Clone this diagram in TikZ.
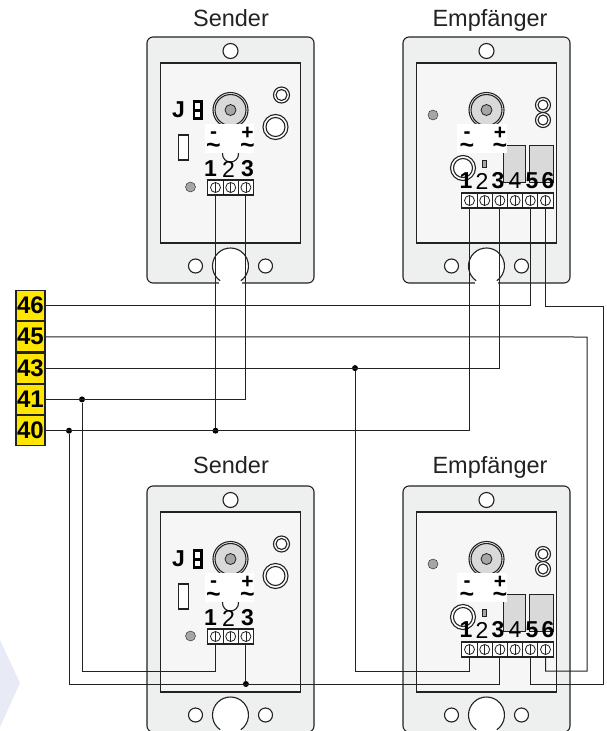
\documentclass[tikz,border=0pt]{standalone}
\usepackage{fontspec}
\setmainfont{Liberation Sans}
\usetikzlibrary{positioning}

\definecolor{bodygray}{HTML}{EEEFEF}
\definecolor{panelgray}{HTML}{F6F6F6}
\definecolor{partgray}{HTML}{D9D9D9}
\definecolor{dotgray}{HTML}{A6A6A6}
\definecolor{linedark}{HTML}{222222}
\definecolor{busyellow}{HTML}{FFE600}
\definecolor{markpale}{HTML}{E8EAF6}

\tikzset{
  outline/.style={draw=linedark, line width=1.1pt},
  title/.style={inner sep=0pt, anchor=base, font=\fontsize{23.5}{24}\selectfont, text=linedark},
  polarity/.style={inner sep=0pt, font=\bfseries\fontsize{21}{22}\selectfont},
  wavemark/.style={inner sep=0pt, font=\bfseries\fontsize{25}{26}\selectfont},
  digitbold/.style={inner sep=0pt, font=\bfseries\fontsize{23}{24}\selectfont},
  digitthin/.style={inner sep=0pt, font=\fontsize{23}{24}\selectfont},
  termcell/.style={outline, fill=white, minimum width=15.2pt, minimum height=15pt, inner sep=0pt,
    path picture={
      \draw[line width=0.8pt, draw=linedark] (path picture bounding box.center) circle (5);
      \draw[line width=0.8pt, draw=linedark] ([yshift=5pt]path picture bounding box.center) -- ([yshift=-5pt]path picture bounding box.center);
    }},
  busterm/.style={outline, fill=busyellow, minimum width=29pt, minimum height=30.2pt, inner sep=0pt,
    font=\bfseries\fontsize{24}{25}\selectfont},
  wire/.style={draw=linedark, line width=1pt},
  junction/.style={circle, fill=black, minimum size=6pt, inner sep=0pt},
  pics/devicebody/.style={code={
    % housing and inner panel
    \draw[outline, fill=bodygray, rounded corners=6pt] (-83.5,-14) rectangle (83.5,232);
    \draw[outline, fill=panelgray] (-70,12) rectangle (70,192);
    % mounting holes
    \draw[outline, fill=white] (0,0) circle (7.5);
    \draw[outline, fill=white] (-35,215) circle (7);
    \draw[outline, fill=white] (35,215) circle (7);
    \fill[white] (0,215) circle (18);
    \fill[white] (-12,228) rectangle (11,234);
    \draw[outline] (0,215) ++(125:18) arc[start angle=125, end angle=415, radius=18];
    % buzzer
    \draw[outline, fill=white] (0,59) circle (17.5);
    \draw[outline, fill=partgray] (0,59) circle (15.5);
    \draw[draw=linedark, line width=0.8pt, fill=dotgray] (0,59) circle (5.5);
  }},
  pics/senderbox/.style={code={
    \pic {devicebody};
    \draw[outline, fill=white] (51,44) circle (8);
    \draw[outline, fill=white] (51,44) circle (5.5);
    \draw[outline, fill=white] (45,76) circle (12.5);
    \draw[outline, fill=white] (45,76) circle (9.5);
    \node[digitbold] (-j) at (-52,59) {J};
    % jumper
    \fill[black] (-38,49) rectangle (-28,69);
    \fill[white] (-35.5,52) rectangle (-30.5,57.5);
    \fill[white] (-35.5,60.5) rectangle (-30.5,66);
    \draw[outline, fill=white] (-52,84) rectangle (-42,109);
    \draw[draw=linedark, fill=dotgray] (-40,136) circle (5);
    \draw[outline, fill=white] (0,103) circle (8);
    % patch under the polarity marks
    \fill[white] (-26,73) rectangle (23,102);
    \node[polarity] (-minus) at (-17,84) {-};
    \node[wavemark] (-acl) at (-17,97.5) {\textasciitilde};
    \node[polarity] (-plus) at (17,82) {+};
    \node[wavemark] (-acr) at (17,97.5) {\textasciitilde};
    % terminal block
    \node[digitbold] (-n1) at (-20,118) {1};
    \node[digitthin] (-n2) at (-2,118) {2};
    \node[digitbold] (-n3) at (17,118) {3};
    \node[termcell] (-t1) at (-15,136.5) {};
    \node[termcell] (-t2) at (0.2,136.5) {};
    \node[termcell] (-t3) at (15.4,136.5) {};
  }},
  pics/receiverbox/.style={code={
    \pic {devicebody};
    \draw[outline, fill=white] (56.5,54) circle (7.5);
    \draw[outline, fill=white] (56.5,54) circle (5);
    \draw[outline, fill=white] (56.5,69) circle (7.5);
    \draw[outline, fill=white] (56.5,69) circle (5);
    \draw[draw=linedark, fill=dotgray] (-53.5,64) circle (5);
    % relays
    \draw[draw=linedark, line width=0.9pt, fill=partgray] (16.5,94) rectangle (38.5,131);
    \draw[draw=linedark, line width=0.9pt, fill=partgray] (42.5,94) rectangle (66.5,131);
    % patch under the polarity marks
    \fill[white] (-29.5,73) rectangle (20.5,102);
    \node[polarity] (-minus) at (-19.5,84) {-};
    \node[wavemark] (-acl) at (-19.5,97.5) {\textasciitilde};
    \node[polarity] (-plus) at (13.5,82) {+};
    \node[wavemark] (-acr) at (13.5,97.5) {\textasciitilde};
    \draw[outline, fill=white] (-23.5,117) circle (12.5);
    \draw[outline, fill=white] (-23.5,117) circle (9.5);
    \draw[draw=linedark, line width=0.8pt, fill=dotgray] (-4.5,109) rectangle (0,116);
    % terminal block
    \node[digitbold] (-n1) at (-20.5,130) {1};
    \node[digitthin] (-n2) at (-4.5,130) {2};
    \node[digitbold] (-n3) at (11.5,130) {3};
    \node[digitthin] (-n4) at (28.5,130) {4};
    \node[digitbold] (-n5) at (45.5,130) {5};
    \node[digitbold] (-n6) at (61.5,130) {6};
    \node[termcell] (-t1) at (-17,149.5) {};
    \node[termcell] (-t2) at (-1.8,149.5) {};
    \node[termcell] (-t3) at (13.4,149.5) {};
    \node[termcell] (-t4) at (28.6,149.5) {};
    \node[termcell] (-t5) at (43.8,149.5) {};
    \node[termcell] (-t6) at (59,149.5) {};
  }},
}

\begin{document}
\begin{tikzpicture}[x=1pt, y=-1pt]
\useasboundingbox (0,0) rectangle (606,731);

% Pale mark in the corner
\fill[markpale] (0,640) -- (20,683) -- (0,727) -- cycle;

% Upper pair
\node[title] (sendtop) at (231,26.5) {Sender};
\node[title] (recvtop) at (490,26.5) {Empfänger};
\pic (s1) at (230.5,51) {senderbox};
\pic (r1) at (486.5,51) {receiverbox};

% Lower pair
\node[title] (sendlow) at (231,473.5) {Sender};
\node[title] (recvlow) at (490,473.5) {Empfänger};
\pic (s2) at (230.5,500) {senderbox};
\pic (r2) at (486.5,500) {receiverbox};

% Yellow terminal strip
\node[busterm] (b46) at (30.5,305.5) {46};
\node[busterm, below=0pt of b46] (b45) {45};
\node[busterm, below=0pt of b45] (b43) {43};
\node[busterm, below=0pt of b43] (b41) {41};
\node[busterm, below=0pt of b41] (b40) {40};

% Corners of the long runs
\coordinate (c6a) at (603,306);
\coordinate (c6b) at (603,684);
\coordinate (c45a) at (587,337);
\coordinate (c45b) at (587,671);
\coordinate (c43) at (355,671);
\coordinate (c41) at (82,671);
\coordinate (c40) at (69,684);

% Branch points
\node[junction] (j43) at (c43 |- b43) {};
\node[junction] (j41) at (c41 |- b41) {};
\node[junction] (j40a) at (c40 |- b40) {};
\node[junction] (j40b) at (s1-t1 |- b40) {};
\node[junction] (j40c) at (s2-t3 |- c40) {};

% Wires to the upper pair
\draw[wire] (b46.east) -| (r1-t5.south);
\draw[wire] (b43.east) -| (r1-t3.south);
\draw[wire] (b41.east) -| (s1-t3.south);
\draw[wire] (b40.east) -| (r1-t1.south);
\draw[wire] (j40b) -- (s1-t1.south);

% Wires to the lower pair
\draw[wire] (r1-t6.south) |- (c6a) -- (c6b) -| (r2-t5.south);
\draw[wire] (b45.east) -- (c45a) -- (c45b) -| (r2-t6.south);
\draw[wire] (j43) -- (c43) -| (r2-t1.south);
\draw[wire] (j41) -- (c41) -| (s2-t1.south);
\draw[wire] (j40a) -- (c40) -| (r2-t3.south);
\draw[wire] (j40c) -- (s2-t3.south);
\end{tikzpicture}
\end{document}
